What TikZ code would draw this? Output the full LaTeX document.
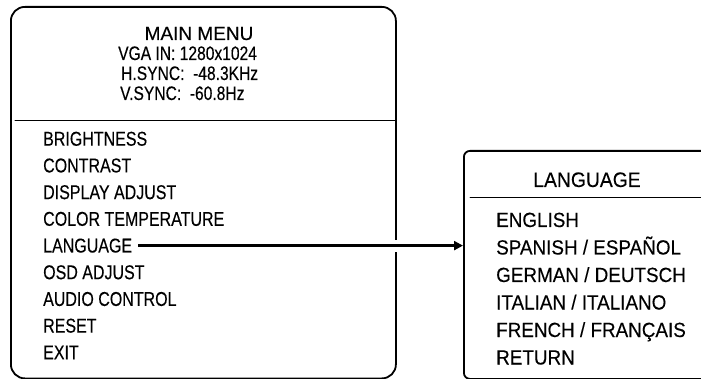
\documentclass[tikz,border=0pt]{standalone}
\usepackage{fontspec}
\usetikzlibrary{arrows.meta}
\setmainfont{Liberation Sans}[FakeStretch=0.8, FakeBold=0.25]
\newfontfamily\widefont{Liberation Sans}[FakeStretch=0.92, FakeBold=0.25]
\newfontfamily\titlefont{Liberation Sans}[FakeStretch=1.0, FakeBold=0.25]
\begin{document}
\begin{tikzpicture}[x=1pt, y=-1pt, line cap=round, line join=round, >={Triangle[length=9pt, width=9pt]}]
	\tikzset{menu box/.style={draw, line width=1.8pt, inner sep=0pt, anchor=north west},
		head/.style={inner sep=0pt, anchor=base west, font=\fontsize{19.5}{23}\selectfont},
		item/.style={inner sep=0pt, anchor=base west, font=\fontsize{20}{24}\selectfont},
		lang item/.style={inner sep=0pt, anchor=base west, font=\widefont\fontsize{20.5}{24}\selectfont}}
	\useasboundingbox (0,0) rectangle (701,379);
	\clip (0,0) rectangle (701,379);
	% the two menus
	\node[menu box, rounded corners=14pt, minimum width=385pt, minimum height=371.5pt] (mainbox) at (10,6) {};
	\node[menu box, rounded corners=6pt, minimum width=260pt, minimum height=228pt] (langbox) at (463,150) {};
	\draw[line width=1pt] (15,121) -- (395,121);
	\draw[line width=1pt] (470,198) -- (701,198);
	% main menu
	\node[inner sep=0pt, anchor=base, font=\titlefont\fontsize{19}{23}\selectfont] (title) at (199,40) {MAIN MENU};
	\node[head] (vga) at (118,60) {VGA IN: 1280x1024};
	\node[head] (hsync) at (121,80) {H.SYNC:\ \ -48.3KHz};
	\node[head] (vsync) at (120,100) {V.SYNC:\ \ -60.8Hz};
	\foreach \name [count=\i from 0] in {BRIGHTNESS, CONTRAST, DISPLAY ADJUST, COLOR TEMPERATURE, LANGUAGE, OSD ADJUST, AUDIO CONTROL, RESET, EXIT}
		\node[item] (m\i) at (43,{145.7+26.7*\i}) {\name};
	% language menu
	\node[inner sep=0pt, anchor=base, font=\widefont\fontsize{21}{25}\selectfont] (langtitle) at (587,187) {LANGUAGE};
	\foreach \name [count=\i from 0] in {ENGLISH, SPANISH / ESPAÑOL, GERMAN / DEUTSCH, ITALIAN / ITALIANO, FRENCH / FRANÇAIS, RETURN}
		\node[lang item] (l\i) at (496,{227+27.5*\i}) {\name};
	% arrow
	\draw[white, line width=12pt, line cap=butt] ([xshift=-8pt]mainbox.east |- m4.east) -- ([xshift=8pt]mainbox.east |- m4.east);
	\draw[->, line width=3.3pt, line cap=butt] ([xshift=6pt]m4.east) -- (m4.east -| langbox.west);
\end{tikzpicture}
\end{document}
